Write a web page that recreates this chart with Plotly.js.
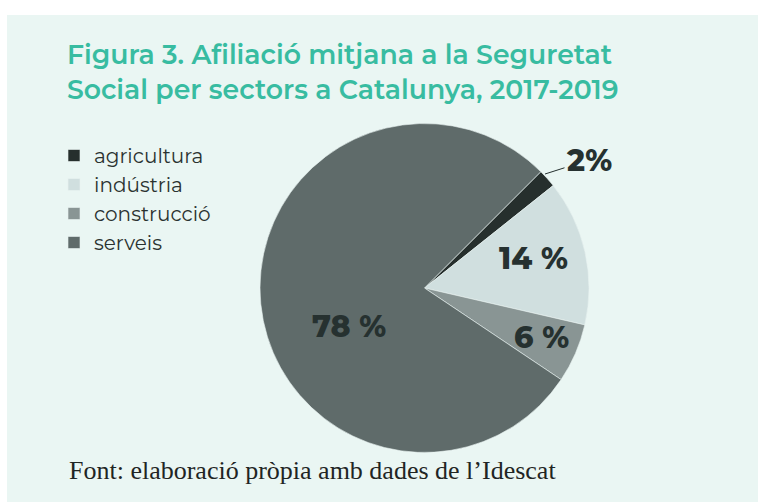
<!DOCTYPE html>
<html>
<head>
<meta charset="utf-8">
<script src="https://cdn.plot.ly/plotly-3.0.1.min.js"></script>
<style>
  html, body { margin: 0; padding: 0; background: #ffffff; }
  #chart { width: 758px; height: 502px; }
</style>
</head>
<body>
<div id="chart"></div>
<script>
// ---- data ----
const sectors = ['agricultura', 'indústria', 'construcció', 'serveis'];
const shares = [1.8, 14.3, 5.8, 78.1];
const sliceColors = ['#262f2d', '#d0dfdf', '#899594', '#5f6b6a'];
const titleText = 'Figura 3. Afiliació mitjana a la Seguretat<br>Social per sectors a Catalunya, 2017-2019';
const sourceText = 'Font: elaboració pròpia amb dades de l’Idescat';

// label placement (paper pixels) for each slice's percentage
const labelPx = [[589, 160], [533, 258], [541, 337], [349, 326]];
const labelSep = ['', ' ', ' ', ' '];

const W = 758, H = 502;
const px = x => x / W;
const py = y => 1 - y / H;

const labelFont = { family: 'Montserrat, "Open Sans", sans-serif', size: 30, color: '#263130', weight: 800 };

const annotations = shares.map((v, i) => {
  const txt = Math.round(v) + labelSep[i] + '%';
  const base = {
    text: txt, xref: 'paper', yref: 'paper',
    font: labelFont, xanchor: 'center', yanchor: 'middle', showarrow: false
  };
  if (i === 0) {
    return Object.assign(base, {
      x: px(545), y: py(174), showarrow: true, arrowhead: 0, arrowwidth: 1,
      arrowcolor: '#263130', ax: labelPx[0][0] - 545, ay: labelPx[0][1] - 174, standoff: 0
    });
  }
  return Object.assign(base, { x: px(labelPx[i][0]), y: py(labelPx[i][1]) });
});

annotations.push({
  text: sourceText, xref: 'paper', yref: 'paper', x: px(67), y: py(470),
  xanchor: 'left', yanchor: 'middle', showarrow: false,
  font: { family: '"Liberation Serif", "DejaVu Serif", serif', size: 26, color: '#1f2524' }
});

const trace = {
  type: 'pie',
  labels: sectors,
  values: shares,
  sort: false,
  direction: 'clockwise',
  rotation: 45,
  textinfo: 'none',
  hoverinfo: 'label+percent',
  marker: { colors: sliceColors, line: { color: '#e9f4f1', width: 0.6 } },
  domain: { x: [px(260), px(589)], y: [py(452.5), py(123.5)] }
};

const layout = {
  width: W, height: H,
  margin: { l: 0, r: 0, t: 0, b: 0 },
  paper_bgcolor: '#ffffff',
  title: {
    text: titleText, x: px(67), xanchor: 'left', xref: 'paper',
    y: py(64), yanchor: 'top', yref: 'container',
    font: { family: 'Montserrat, "Open Sans", sans-serif', size: 26.7, color: '#38bca1', weight: 600 }
  },
  showlegend: true,
  legend: {
    x: px(54), y: py(136), xanchor: 'left', yanchor: 'top',
    bgcolor: 'rgba(0,0,0,0)',
    font: { family: 'Montserrat, "Open Sans", sans-serif', size: 20, color: '#2a3230' },
    traceorder: 'normal'
  },
  shapes: [{
    type: 'rect', xref: 'paper', yref: 'paper', layer: 'below',
    x0: px(7), x1: 1, y0: 0, y1: py(15),
    fillcolor: '#eaf6f3', line: { width: 0 }
  }],
  annotations: annotations
};

Plotly.newPlot('chart', [trace], layout, { displayModeBar: false, staticPlot: true });
</script>
</body>
</html>
